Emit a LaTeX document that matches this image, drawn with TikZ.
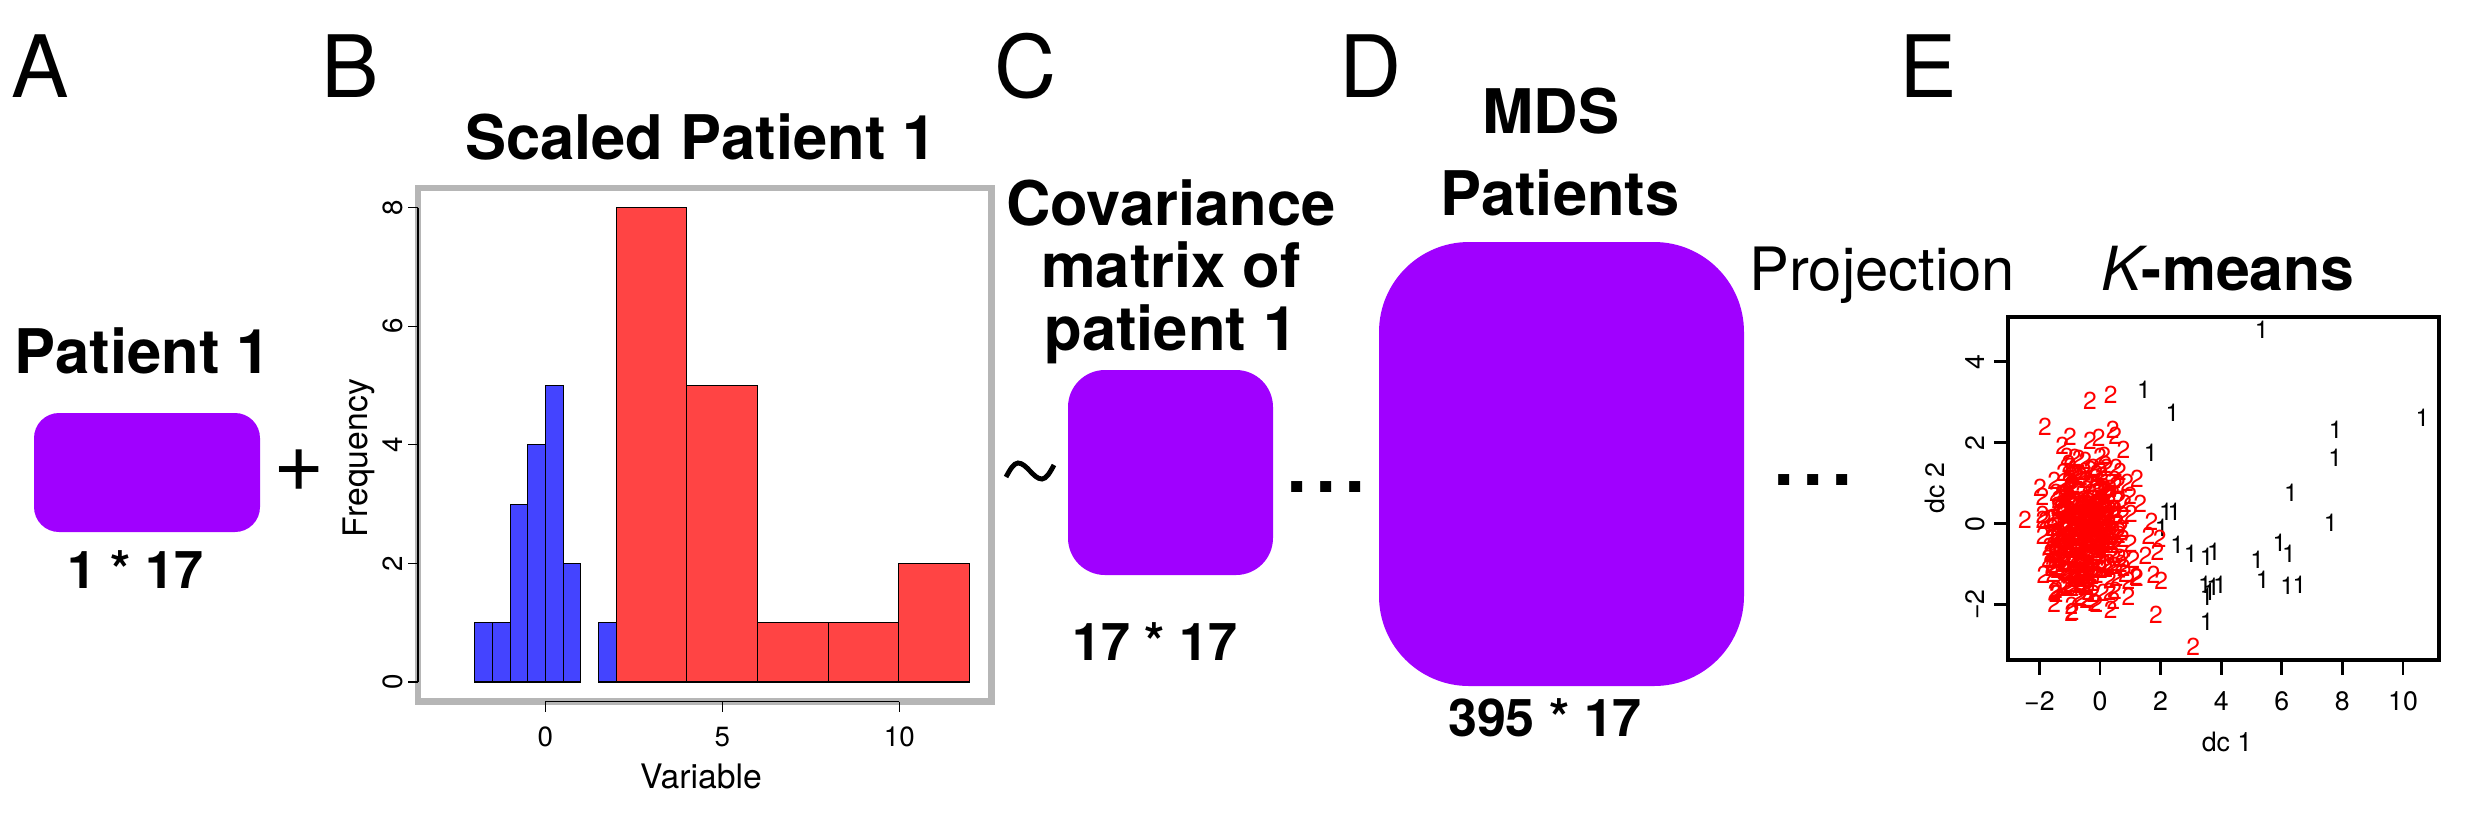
\documentclass[tikz,border=0pt]{standalone}
\usepackage{fontspec}
\setmainfont{TeX Gyre Heros}

\definecolor{boxpurple}{RGB}{160,0,255}
\definecolor{histblue}{RGB}{68,68,255}
\definecolor{histred}{RGB}{255,68,68}
\definecolor{framegray}{RGB}{182,182,182}

\begin{document}
\begin{tikzpicture}[x=0.1mm, y=-0.1mm,
    panel/.style={font=\fontsize{24.5}{28}\selectfont, anchor=base},
    title/.style={font=\fontsize{17.5}{21}\selectfont\bfseries, anchor=base},
    dims/.style={font=\fontsize{14.8}{18}\selectfont\bfseries, anchor=base},
    dotdot/.style={font=\fontsize{30}{32}\selectfont, anchor=base},
    matbox/.style={fill=boxpurple, inner sep=0pt},
    hbar/.style={draw=black, line width=0.3pt},
    axisline/.style={line width=0.3pt},
    histlab/.style={font=\fontsize{7.9}{9}\selectfont, inner sep=0pt},
    histtitle/.style={font=\fontsize{9.6}{11}\selectfont, inner sep=0pt},
    dclab/.style={font=\fontsize{7.6}{9}\selectfont, inner sep=0pt},
    onept/.style={font=\fontsize{7}{8}\selectfont, inner sep=0pt},
    twopt/.style={onept, text=red}]
    \useasboundingbox (0,0) rectangle (2470,815);

    % panel letters
    \node[panel] (lA) at (40,97) {A};
    \node[panel] (lB) at (350,97) {B};
    \node[panel] (lC) at (1026,97) {C};
    \node[panel] (lD) at (1371,97) {D};
    \node[panel] (lE) at (1928,97) {E};

    % A: one patient
    \node[title] (tpat) at (143,373) {Patient 1};
    \node[matbox, minimum width=22.6mm, minimum height=11.9mm, rounded corners=2.5mm] (pat) at (147,472.5) {};
    \node[dims] (dpat) at (135,588) {1 * 17};
    \node[font=\fontsize{25}{28}\selectfont, inner sep=0pt] (plus) at (299,471) {+};

    % B: histogram
    \node[title] (thist) at (701,159) {Scaled Patient 1};
    \draw[framegray, line width=0.67mm] (418,188) rectangle (991.5,701.7);
    \begin{scope}[shift={(545.4,682)}, x=3.535mm, y=5.93mm]
        \foreach \a/\h in {-2/1, -1.5/1, -1/3, -0.5/4, 0/5, 0.5/2, 1.5/1}
            \draw[hbar, fill=histblue] (\a,0) rectangle ++(0.5,\h);
        \foreach \a/\h in {2/8, 4/5, 6/1, 8/1, 10/2}
            \draw[hbar, fill=histred] (\a,0) rectangle ++(2,\h);
    \end{scope}
    \draw[axisline] (418,207.7) -- (418,682);
    \foreach \v in {0,2,4,6,8}{
        \draw[axisline] (418,{682-59.3*\v}) -- (408,{682-59.3*\v});
        \node[histlab, rotate=90] (hy\v) at (393,{682-59.3*\v}) {\v};
    }
    \draw[axisline] (545.4,701.7) -- (899.4,701.7);
    \foreach \v in {0,5,10}{
        \draw[axisline] ({545.4+35.4*\v},701.7) -- ({545.4+35.4*\v},711.7);
        \node[histlab] (hx\v) at ({545.4+35.4*\v},737) {\v};
    }
    \node[histtitle] (hxt) at (701,776) {Variable};
    \node[histtitle, rotate=90] (hyt) at (359,458) {Frequency};

    % C: covariance matrix
    \draw[line width=1.4pt] (1006,477) sin (1018,463) cos (1030,471) sin (1042,479) cos (1054,465);
    \node[title] (tcov1) at (1171,225) {Covariance};
    \node[title] (tcov2) at (1171,287) {matrix of};
    \node[title] (tcov3) at (1171,350) {patient 1};
    \node[matbox, minimum width=20.5mm, minimum height=20.5mm, rounded corners=3.7mm] (cov) at (1170.5,472.5) {};
    \node[dims] (dcov) at (1155,660) {17 * 17};
    \node[dotdot] (dots1) at (1326,492) {...};

    % D: MDS of all patients
    \node[title] (tmds1) at (1551,133) {MDS};
    \node[title] (tmds2) at (1560,215) {Patients};
    \node[matbox, minimum width=36.5mm, minimum height=44.4mm, rounded corners=9mm] (mds) at (1561.5,464) {};
    \node[dims] (dmds) at (1545,736) {395 * 17};
    \node[font=\fontsize{17}{20}\selectfont, anchor=base] (proj) at (1882,290) {Projection};
    \node[dotdot] (dots2) at (1813,485) {...};

    % E: k-means plot
    \node[font=\fontsize{17.3}{20}\selectfont\bfseries, anchor=base] (tkm) at (2228,290) {{\normalfont\itshape K}-means};
    \foreach \v/\t in {-2/−2, 0/0, 2/2, 4/4, 6/6, 8/8, 10/10}{
        \draw[line width=0.27mm] ({2100+30.3*\v},660) -- ({2100+30.3*\v},675);
        \node[dclab] (sx\v) at ({2100+30.3*\v},701) {\t};
    }
    \foreach \v/\t in {-2/−2, 0/0, 2/2, 4/4}{
        \draw[line width=0.27mm] (2008.3,{523.7-40.5*\v}) -- (1994,{523.7-40.5*\v});
        \node[dclab, rotate=90] (sy\v) at (1975,{523.7-40.5*\v}) {\t};
    }
    \node[dclab] (sxt) at (2227,742) {dc 1};
    \node[dclab, rotate=90] (syt) at (1935,488) {dc 2};
    \begin{scope}[shift={(2100,523.7)}, x=3.03mm, y=4.05mm]
        % cluster 1
        \foreach \px/\py [count=\i] in {5.34/4.80, 1.45/3.30, 2.39/2.75, 10.64/2.62, 7.78/2.33,
                7.76/1.64, 1.67/1.74, 6.30/0.77, 7.61/0.03, 2.18/0.30, 2.46/0.30, 2.55/-0.53,
                2.99/-0.73, 3.52/-0.81, 3.76/-0.70, 5.19/-0.88, 5.92/-0.46, 6.24/-0.73,
                5.37/-1.39, 6.18/-1.54, 6.58/-1.50, 3.46/-1.50, 3.61/-1.68, 3.74/-1.56,
                3.96/-1.52, 3.52/-1.81, 3.52/-2.42, 2.04/-0.11}
            \node[onept] (a\i) at (\px,\py) {1};
        % cluster 2
        \pgfmathsetseed{4}
        \foreach \i in {1,...,380}{
            \pgfmathsetmacro\rx{max(-1.9,-0.7+0.6*(rand+rand+rand)+0.8*rnd*rnd)}
            \pgfmathsetmacro\ry{-0.25+0.85*(rand+rand+rand)}
            \node[twopt] (b\i) at (\rx,\ry) {2};
        }
        \foreach \px/\py [count=\i] in {-2.48/0.09, -1.82/2.40, -0.33/3.03, 0.35/3.18,
                -0.90/-2.17, 0.35/-2.13, 1.85/-2.25, 3.08/-3.04, -0.99/2.15, 0.42/2.33,
                0.77/1.82, 0.66/1.28, 1.22/1.11, 1.33/0.49, 1.70/0.04, 1.97/-0.38,
                2.02/-1.40, 1.76/-1.26, 1.22/-1.34, 0.44/-1.91, -1.43/-1.74, -1.87/-1.26,
                -1.98/0.88, -1.10/1.65, -0.33/2.06, 0.00/1.65, 1.0/0.7, 1.5/-0.8,
                1.9/-0.7, 1.6/-0.3, 1.1/-0.9, 0.9/1.0}
            \node[twopt] (c\i) at (\px,\py) {2};
    \end{scope}
    \draw[line width=0.4mm] (2008.3,316.7) rectangle (2439,660);
\end{tikzpicture}
\end{document}
